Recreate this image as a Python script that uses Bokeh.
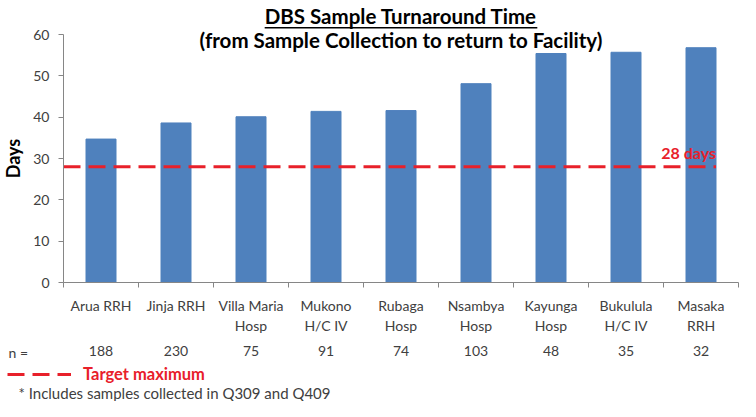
from bokeh.plotting import figure
from bokeh.models import Range1d, LinearAxis, FixedTicker, Label, Legend, LegendItem
from bokeh.embed import file_html
from bokeh.resources import INLINE

# ---- data ----
categories = ["Arua RRH", "Jinja RRH", "Villa Maria\nHosp", "Mukono\nH/C IV", "Rubaga\nHosp",
              "Nsambya\nHosp", "Kayunga\nHosp", "Bukulula\nH/C IV", "Masaka\nRRH"]
days = [34.7, 38.6, 40.1, 41.4, 41.6, 48.1, 55.4, 55.7, 56.8]
n_samples = [188, 230, 75, 91, 74, 103, 48, 35, 32]
target_days = 28
y_ticks = [0, 10, 20, 30, 40, 50, 60]
title1 = "DBS Sample Turnaround Time"
title2 = "(from Sample Collection to return to Facility)"
footnote = "* Includes samples collected in Q309 and Q409"

# ---- styles / layout ----
FONT = "Lato"
BAR = "#4F81BD"
RED = "#E8202A"
TXT = "#404040"
AXC = "#868686"
bar_w = 0.4
W, H = 740, 401
left_px, top_px, bottom_px = 63, 34, 282   # axis origin / top of value axis in canvas px
px_per_cat = 75.0

ncat = len(categories)
positions = [i + 0.5 for i in range(ncat)]
boundaries = list(range(ncat + 1))

x_start = -left_px / px_per_cat
x_end = x_start + W / px_per_cat
y_per_px = (y_ticks[-1] - y_ticks[0]) / (bottom_px - top_px)
y_end = y_ticks[-1] + top_px * y_per_px
y_start = y_ticks[0] - (H - bottom_px) * y_per_px

p = figure(width=W, height=H, output_backend="svg", toolbar_location=None,
           x_range=Range1d(x_start, x_end), y_range=Range1d(y_start, y_end),
           x_axis_type=None, y_axis_type=None,
           min_border=0, min_border_left=0, min_border_right=0,
           min_border_top=0, min_border_bottom=0)
p.outline_line_color = None
p.background_fill_color = "white"
p.border_fill_color = "white"

p.vbar(x=positions, top=days, width=bar_w, color=BAR)

target_r = p.line(x=[0, positions[-1] + bar_w / 2], y=[target_days, target_days],
                  line_color=RED, line_width=3, line_dash="17 8")

# y axis
yax = LinearAxis(ticker=FixedTicker(ticks=y_ticks), axis_label="Days",
                 fixed_location=0, bounds=(y_ticks[0], y_ticks[-1]),
                 axis_line_color=AXC, major_tick_line_color=AXC,
                 major_tick_out=5, major_tick_in=0, minor_tick_out=0, minor_tick_in=0,
                 major_label_text_font=FONT, major_label_text_font_size="14px",
                 major_label_text_color=TXT, major_label_standoff=9,
                 axis_label_text_font=FONT, axis_label_text_font_size="18px",
                 axis_label_text_font_style="bold", axis_label_text_color="black",
                 axis_label_standoff=6)
p.add_layout(yax, "left")

# x axis with category names, ticks at the category boundaries
xax = LinearAxis(ticker=FixedTicker(ticks=positions, minor_ticks=boundaries),
                 fixed_location=0, bounds=(0, ncat),
                 major_label_overrides={pos: c for pos, c in zip(positions, categories)},
                 axis_line_color=AXC, major_tick_out=0, major_tick_in=0,
                 minor_tick_line_color=AXC, minor_tick_out=5, minor_tick_in=0,
                 major_label_text_font=FONT, major_label_text_font_size="14px",
                 major_label_text_color=TXT, major_label_standoff=9)
p.add_layout(xax, "below")

# n row
nax = LinearAxis(ticker=FixedTicker(ticks=positions), fixed_location=0,
                 major_label_overrides={pos: str(n) for pos, n in zip(positions, n_samples)},
                 axis_line_color=None, major_tick_line_color=None, minor_tick_line_color=None,
                 major_tick_out=0, major_tick_in=0, minor_tick_out=0, minor_tick_in=0,
                 major_label_text_font=FONT, major_label_text_font_size="14px",
                 major_label_text_color=TXT, major_label_standoff=63)
p.add_layout(nax, "below")

p.add_layout(Label(x=0, y=0, x_offset=-55, y_offset=-70, text="n =",
                   text_font=FONT, text_font_size="14px", text_color=TXT,
                   text_baseline="middle", text_align="left"))

# titles (first line underlined: black box whose upper part is masked by a wider white box)
t_common = dict(x=ncat / 2, y=y_ticks[-1], text_font=FONT, text_font_size="20.5px",
                text_font_style="bold", text_align="center", text_baseline="middle")
p.add_layout(Label(y_offset=18, text=title1, text_color="black", padding=0,
                   background_fill_color="black", **t_common))
p.add_layout(Label(y_offset=21.6, text=title1, text_color="white", padding=2,
                   background_fill_color="white", **t_common))
p.add_layout(Label(y_offset=19, text=title1, text_color="black", **t_common))
p.add_layout(Label(y_offset=-5, text=title2, text_color="black", **t_common))

# target annotation
p.add_layout(Label(x=positions[-1] + bar_w / 2, y=target_days, y_offset=5,
                   text=f"{target_days} days", text_font=FONT, text_font_size="16px",
                   text_font_style="bold", text_color=RED,
                   text_align="right", text_baseline="bottom"))

legend = Legend(items=[LegendItem(label="Target maximum", renderers=[target_r])],
                location=(7, 17), orientation="horizontal",
                label_text_color=RED, label_text_font=FONT, label_text_font_size="16.5px",
                label_text_font_style="bold", glyph_width=64, glyph_height=18,
                label_standoff=12, border_line_color=None, background_fill_alpha=0,
                padding=0, margin=0, spacing=0)
p.add_layout(legend, "center")

p.add_layout(Label(x=0, y=0, x_offset=-45, y_offset=-110, text=footnote,
                   text_font=FONT, text_font_size="15px", text_color=TXT,
                   text_baseline="middle", text_align="left"))

open("out.html", "w").write(file_html(p, INLINE))
